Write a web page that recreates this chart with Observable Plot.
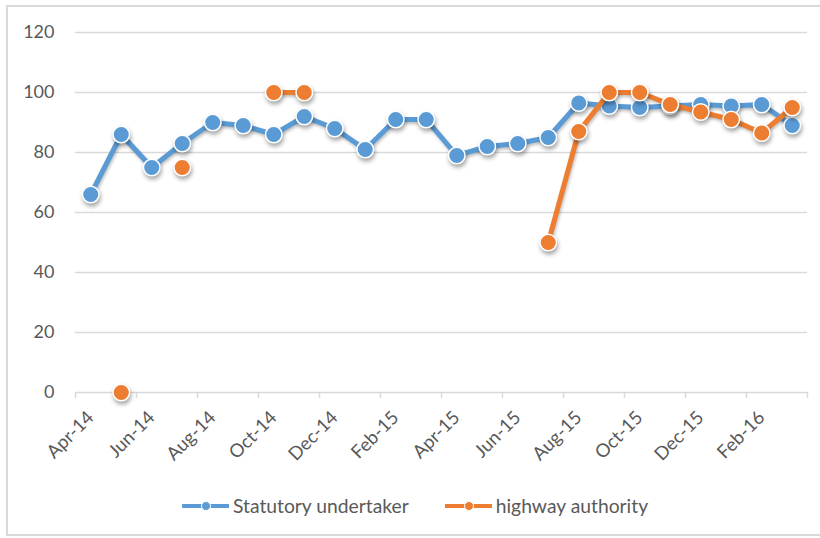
<!DOCTYPE html>
<html>
<head>
<meta charset="utf-8">
<script src="https://cdn.jsdelivr.net/npm/d3@7"></script>
<script src="https://cdn.jsdelivr.net/npm/@observablehq/plot@0.6"></script>
<style>
  html, body { margin: 0; padding: 0; background: #fff; overflow: hidden; }
  #wrap { position: relative; width: 820px; height: 538px; font-family: Lato, "Open Sans", sans-serif; }
  #frame { position: absolute; left: 6px; top: 5px; width: 830px; height: 531px; border: 2px solid #d9d9d9; box-sizing: border-box; }
  #chart { position: absolute; left: 0; top: 0; }
  #chart g[aria-label="dot"] { filter: drop-shadow(1.5px 3px 2px rgba(0,0,0,0.35)); }
  #chart g[aria-label="line"] { filter: drop-shadow(1px 2px 1.5px rgba(0,0,0,0.25)); }
  #legend { position: absolute; top: 494px; left: 182px; display: flex; align-items: center; font-size: 19.3px; color: #595959; }
  .item { display: flex; align-items: center; }
  .item svg { margin-right: 4px; }
</style>
</head>
<body>
<div id="wrap">
  <div id="frame"></div>
  <div id="chart"></div>
  <div id="legend"></div>
</div>
<script>
const months = ["Apr-14","May-14","Jun-14","Jul-14","Aug-14","Sep-14","Oct-14","Nov-14","Dec-14","Jan-15","Feb-15","Mar-15",
                "Apr-15","May-15","Jun-15","Jul-15","Aug-15","Sep-15","Oct-15","Nov-15","Dec-15","Jan-16","Feb-16","Mar-16"];
const statutory = [66, 86, 75, 83, 90, 89, 86, 92, 88, 81, 91, 91, 79, 82, 83, 85, 96.5, 95.5, 95, 95.5, 96, 95.5, 96, 89];
const highway = [null, 0, null, 75, null, null, 100, 100, null, null, null, null, null, null, null, 50, 87, 100, 100, 96, 93.5, 91, 86.5, 95];
const seriesNames = ["Statutory undertaker", "highway authority"];
const colors = ["#5B9BD5", "#ED7D31"];
const yTicks = [0, 20, 40, 60, 80, 100, 120];

const table = months.map((m, i) => ({i, month: m, s: statutory[i], h: highway[i]}));
const labelIdx = d3.range(0, months.length, 2);
const boundaries = d3.range(-0.5, months.length + 0.5, 2);

const plot = Plot.plot({
  width: 820,
  height: 470,
  marginLeft: 75,
  marginRight: 13,
  marginTop: 32,
  marginBottom: 78,
  style: {fontFamily: "Lato, 'Open Sans', sans-serif", fontSize: "18px", color: "#595959", background: "transparent"},
  x: {domain: [-0.5, months.length - 0.5], axis: null},
  y: {domain: [0, 120], axis: null},
  marks: [
    Plot.gridY(yTicks.filter(d => d > 0), {stroke: "#d9d9d9", strokeOpacity: 1, strokeWidth: 1.3}),
    Plot.ruleY([0], {stroke: "#d9d9d9", strokeWidth: 1.5}),
    Plot.ruleX(boundaries, {x: d => d, y1: 0, y2: -2, stroke: "#d9d9d9", strokeWidth: 1.5}),
    Plot.axisY({ticks: yTicks, tickSize: 0, tickPadding: 21, tickFormat: d => d, label: null}),
    Plot.axisX({ticks: labelIdx, tickFormat: i => months[i], tickRotate: -45, tickSize: 0, tickPadding: 22, label: null, fontSize: 18.5}),
    Plot.line(table, {x: "i", y: "s", stroke: colors[0], strokeWidth: 5, strokeLinejoin: "round"}),
    Plot.dot(table, {x: "i", y: "s", r: 8.3, fill: colors[0], stroke: "white", strokeWidth: 1.5}),
    Plot.line(table, {x: "i", y: "h", stroke: colors[1], strokeWidth: 5, strokeLinejoin: "round"}),
    Plot.dot(table.filter(d => d.h != null), {x: "i", y: "h", r: 8.3, fill: colors[1], stroke: "white", strokeWidth: 1.5})
  ]
});
document.getElementById("chart").appendChild(plot);

const legend = document.getElementById("legend");
seriesNames.forEach((name, k) => {
  const item = document.createElement("div");
  item.className = "item";
  if (k > 0) item.style.marginLeft = "36px";
  item.innerHTML = `<svg width="47" height="12"><line x1="1" x2="46" y1="6" y2="6" stroke="${colors[k]}" stroke-width="4" stroke-linecap="round"/><circle cx="24" cy="6" r="4.5" fill="${colors[k]}" stroke="white" stroke-width="1"/></svg><span>${name}</span>`;
  legend.appendChild(item);
});
</script>
</body>
</html>
